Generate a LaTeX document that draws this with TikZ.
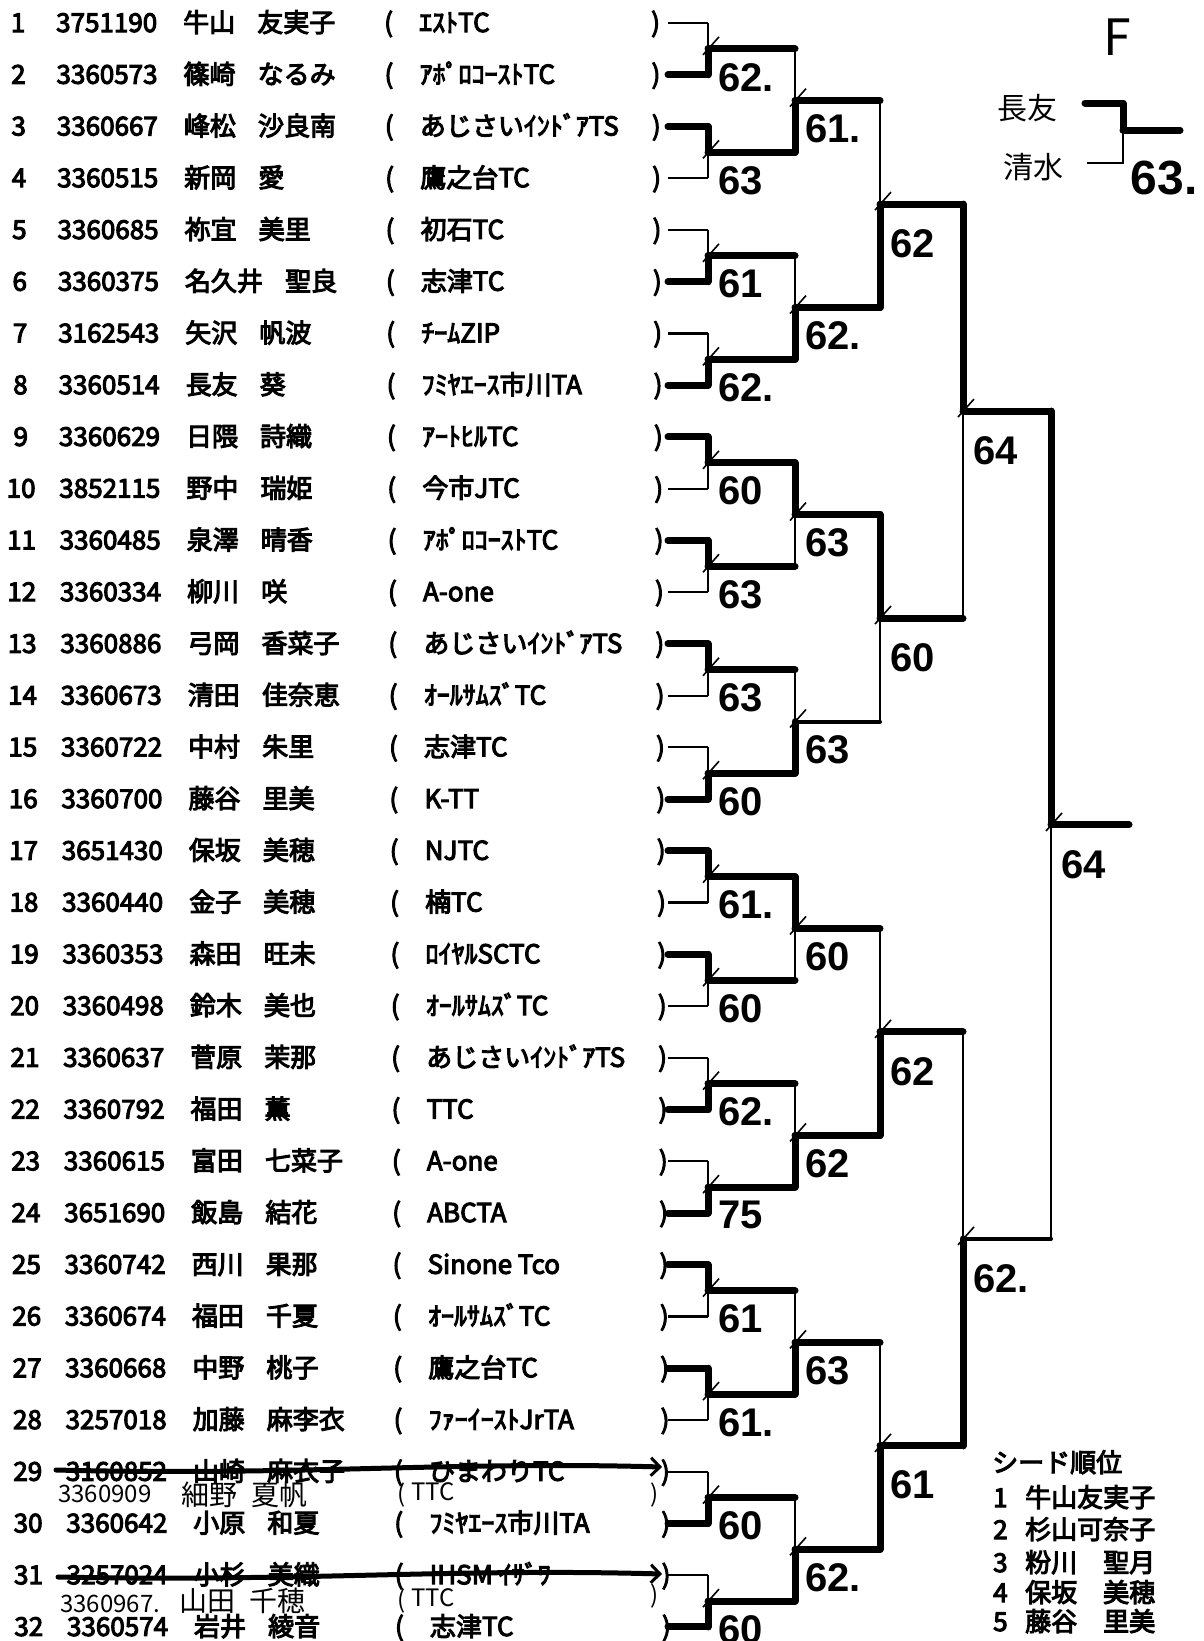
\documentclass[tikz,border=0pt]{standalone}
\usepackage{fontspec}
\setmainfont{Noto Sans CJK JP}[FakeBold=4]
\newfontfamily\penfont{Noto Sans CJK JP}
\newfontfamily\scorefont{Liberation Sans}
\usetikzlibrary{arrows.meta}

\begin{document}
\begin{tikzpicture}[x=1pt, y=-1pt,
    row_text/.style={anchor=base west, inner sep=0pt, font=\fontsize{26}{30}\selectfont},
    pen_text/.style={anchor=base west, inner sep=0pt, font=\penfont\fontsize{24}{26}\selectfont},
    seed_text/.style={anchor=base west, inner sep=0pt, font=\fontsize{26}{30}\selectfont},
    score/.style={anchor=north west, inner sep=0pt, font=\scorefont\bfseries\fontsize{40}{40}\selectfont},
    lose_line/.style={line width=2.2pt},
    mid_line/.style={line width=4pt, line cap=round},
    win_line/.style={line width=7pt, line cap=round, line join=round},
    tick_line/.style={line width=1.6pt},
    strike_line/.style={line width=5pt, line cap=round,
        -{Straight Barb[length=9pt, width=18pt, line width=3pt]}}
]
\fill[white] (0,0) rectangle (1203,1641);
\useasboundingbox (0,0) rectangle (1203,1641);

% entry list
\foreach \i/\id/\fam/\giv/\team in {
    1/3751190/牛山/友実子/ｴｽﾄTC,
    2/3360573/篠崎/なるみ/ｱﾎﾟﾛｺｰｽﾄTC,
    3/3360667/峰松/沙良南/あじさいｲﾝﾄﾞｱTS,
    4/3360515/新岡/愛/鷹之台TC,
    5/3360685/祢宜/美里/初石TC,
    6/3360375/名久井/聖良/志津TC,
    7/3162543/矢沢/帆波/ﾁｰﾑZIP,
    8/3360514/長友/葵/ﾌﾐﾔｴｰｽ市川TA,
    9/3360629/日隈/詩織/ｱｰﾄﾋﾙTC,
    10/3852115/野中/瑞姫/今市JTC,
    11/3360485/泉澤/晴香/ｱﾎﾟﾛｺｰｽﾄTC,
    12/3360334/柳川/咲/A-one,
    13/3360886/弓岡/香菜子/あじさいｲﾝﾄﾞｱTS,
    14/3360673/清田/佳奈恵/ｵｰﾙｻﾑｽﾞTC,
    15/3360722/中村/朱里/志津TC,
    16/3360700/藤谷/里美/K-TT,
    17/3651430/保坂/美穂/NJTC,
    18/3360440/金子/美穂/楠TC,
    19/3360353/森田/旺未/ﾛｲﾔﾙSCTC,
    20/3360498/鈴木/美也/ｵｰﾙｻﾑｽﾞTC,
    21/3360637/菅原/茉那/あじさいｲﾝﾄﾞｱTS,
    22/3360792/福田/薫/TTC,
    23/3360615/富田/七菜子/A-one,
    24/3651690/飯島/結花/ABCTA,
    25/3360742/西川/果那/Sinone Tco,
    26/3360674/福田/千夏/ｵｰﾙｻﾑｽﾞTC,
    27/3360668/中野/桃子/鷹之台TC,
    28/3257018/加藤/麻李衣/ﾌｧｰｲｰｽﾄJrTA,
    29/3160852/山崎/麻衣子/ひまわりTC,
    30/3360642/小原/和夏/ﾌﾐﾔｴｰｽ市川TA,
    31/3257024/小杉/美織/IHSM ｲｻﾞﾜ,
    32/3360574/岩井/綾音/志津TC} {
    \pgfmathsetmacro\yy{23+(\i-1)*51.74+9}
    \pgfmathsetmacro\sk{0.35*(\i-1)}
    \node[row_text, anchor=base] (no\i) at (18+\sk,\yy) {\i};
    \node[row_text] (id\i) at (56+\sk,\yy) {\id};
    \node[row_text] (nm\i) at (183+\sk,\yy) {\fam\hspace{0.85em}\giv};
    \node[row_text] (lp\i) at (384+\sk,\yy) {(};
    \node[row_text] (tm\i) at (419+\sk,\yy) {\team};
    \node[row_text] (rp\i) at (651+\sk,\yy) {)};
}

% bracket points
\foreach \i in {1,...,32}
    \coordinate (p0-\i) at (668,{23+(\i-1)*51.74});
\foreach \r/\xr/\xn/\n in {1/708/795/16, 2/795/880/8, 3/880/963/4, 4/963/1051/2, 5/1051/1129/1}
    \foreach \k in {1,...,\n} {
        \pgfmathsetmacro\ym{23+((\k-0.5)*2^\r-0.5)*51.74}
        \coordinate (p\r-\k) at (\xr,\ym);
        \coordinate (e\r-\k) at (\xn,\ym);
    }

% matches: round/match/winner/out line/score
\foreach \r/\k/\w/\o/\s in {
    1/1/2/win_line/62., 1/2/1/win_line/63, 1/3/2/win_line/61, 1/4/2/win_line/62.,
    1/5/1/win_line/60, 1/6/1/win_line/63, 1/7/1/win_line/63, 1/8/2/win_line/60,
    1/9/1/win_line/61., 1/10/1/win_line/60, 1/11/2/win_line/62., 1/12/2/win_line/75,
    1/13/1/win_line/61, 1/14/1/win_line/61., 1/15/2/win_line/60, 1/16/2/win_line/60,
    2/1/2/win_line/61., 2/2/2/win_line/62., 2/3/1/win_line/63, 2/4/2/mid_line/63,
    2/5/1/win_line/60, 2/6/2/win_line/62, 2/7/2/win_line/63, 2/8/2/win_line/62.,
    3/1/2/win_line/62, 3/2/1/win_line/60, 3/3/2/win_line/62, 3/4/2/win_line/61,
    4/1/1/win_line/64, 4/2/2/mid_line/62.,
    5/1/1/win_line/64} {
    \pgfmathtruncatemacro\q{\r-1}
    \pgfmathtruncatemacro\a{2*\k-1}
    \pgfmathtruncatemacro\b{2*\k}
    \pgfmathtruncatemacro\c{\w==1 ? \a : \b}
    \pgfmathsetmacro\dy{\r>2 ? 25 : 14}
    \ifnum\r=1
        \ifnum\w=1 \def\ta{win_line}\def\tb{lose_line}\else\def\ta{lose_line}\def\tb{win_line}\fi
        \draw[\ta] (p0-\a) -- (p0-\a -| p1-\k);
        \draw[\tb] (p0-\b) -- (p0-\b -| p1-\k);
    \fi
    \draw[lose_line] (p\q-\a -| p\r-\k) -- (p\q-\b -| p\r-\k);
    \draw[win_line] (p\q-\c -| p\r-\k) -- (p\r-\k);
    \draw[\o] (p\r-\k) -- (e\r-\k);
    \draw[tick_line] (p\r-\k) ++(-5,6) -- ++(16,-18);
    \node[score, xshift=10pt, yshift=-\dy pt] (s\r-\k) at (p\r-\k) {\s};
}

% withdrawn entries and substitutes
\coordinate (x29a) at (56,1470);
\coordinate (x29b) at (662,1467);
\coordinate (x31a) at (58,1577);
\coordinate (x31b) at (662,1574);
\draw[strike_line] (x29a) .. controls (300,1476) and (450,1461) .. (x29b);
\draw[strike_line] (x31a) .. controls (300,1582) and (450,1568) .. (x31b);
\node[pen_text] (h29id) at (58,1502) {3360909};
\node[pen_text, font=\penfont\fontsize{28}{30}\selectfont] (h29nm) at (181,1505) {細野\hspace{0.5em}夏帆};
\node[pen_text] (h29lp) at (397,1502) {(};
\node[pen_text] (h29tm) at (411,1500) {TTC};
\node[pen_text] (h29rp) at (650,1502) {)};
\node[pen_text] (h31id) at (60,1612) {3360967.};
\node[pen_text, font=\penfont\fontsize{28}{30}\selectfont] (h31nm) at (179,1611) {山田\hspace{0.5em}千穂};
\node[pen_text] (h31lp) at (397,1608) {(};
\node[pen_text] (h31tm) at (411,1606) {TTC};
\node[pen_text] (h31rp) at (650,1603) {)};

% final (top right)
\node[font=\penfont\fontsize{50}{50}\selectfont, inner sep=0pt] (fin) at (1117,37) {F};
\node[font=\penfont\fontsize{30}{34}\selectfont, inner sep=0pt] (nagatomo) at (1027,108) {長友};
\node[font=\penfont\fontsize{30}{34}\selectfont, inner sep=0pt] (shimizu) at (1033,167) {清水};
\coordinate (f1) at (1085,103);
\coordinate (f2) at (1087,163);
\coordinate (fm) at (1123,130);
\coordinate (fe) at (1180,130);
\draw[lose_line] (f2) -| (fm);
\draw[win_line] (f1) -| (fm);
\draw[win_line] (fm) -- (fe);
\node[font=\scorefont\bfseries\fontsize{48}{48}\selectfont, inner sep=0pt] (fscore) at (1164,178) {63.};

% seeds
\node[seed_text] (seedhead) at (992,1472) {シード順位};
\foreach \n/\who/\yy in {1/牛山友実子/1507, 2/杉山可奈子/1539, 3/粉川　聖月/1572, 4/保坂　美穂/1602, 5/藤谷　里美/1631} {
    \node[seed_text] (sn\n) at (993,\yy) {\n};
    \node[seed_text] (sw\n) at (1025,\yy) {\who};
}
\end{tikzpicture}
\end{document}
